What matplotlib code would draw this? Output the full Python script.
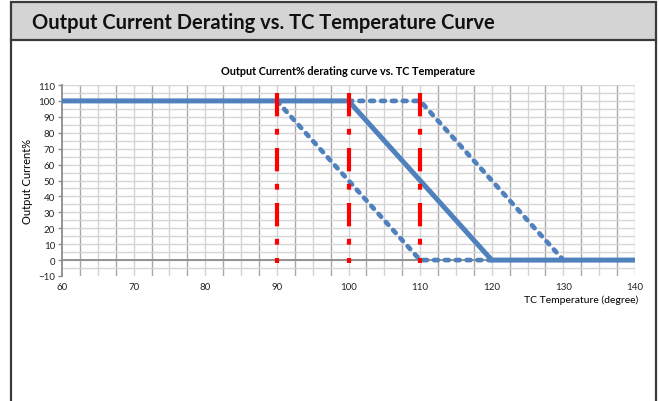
import numpy as np
import matplotlib
matplotlib.use('Agg')
import matplotlib.pyplot as plt
from matplotlib.patches import Rectangle
from matplotlib.lines import Line2D

# derating curves (temperature in degree, output current in %)
temp_rated = [60, 100, 120, 140]
current_rated = [100, 100, 0, 0]
temp_low = [90, 110, 120]
current_low = [100, 0, 0]
temp_high = [100, 110, 130]
current_high = [100, 100, 0]

# red marker lines at the derating start points
limit_temps = [90, 100, 110]
limit_top = 105
limit_bottom = -2

x_ticks = list(range(60, 141, 10))
y_ticks = list(range(-10, 111, 10))

plt.rcParams['font.family'] = ['Lato', 'DejaVu Sans']

W, H = 659, 402
fig = plt.figure(figsize=(W / 100, H / 100), dpi=100)

def fx(px):
    return px / W

def fy(py):
    return 1 - py / H

# frame and gray header bar
fig.add_artist(Rectangle((fx(10.5), fy(41)), fx(656) - fx(10.5), fy(3) - fy(41),
                         transform=fig.transFigure, facecolor='#D4D4D4',
                         edgecolor='#3A3A3A', lw=1.6))
fig.add_artist(Line2D([fx(10.5), fx(10.5)], [fy(41), 0], transform=fig.transFigure,
                      color='#3A3A3A', lw=1.6))
fig.add_artist(Line2D([fx(656), fx(656)], [fy(41), 0], transform=fig.transFigure,
                      color='#3A3A3A', lw=1.6))
fig.text(fx(32), fy(23), 'Output Current Derating vs. TC Temperature Curve',
         fontsize=14.5, fontweight='bold', va='center', ha='left', color='#111111')

ax = fig.add_axes([fx(62), fy(277), fx(635) - fx(62), fy(86) - fy(277)])

# grid
for i, t in enumerate(np.arange(62.5, 140, 2.5)):
    ax.axvline(t, color='#A8A8A8' if i % 2 == 0 else '#D3D3D3', lw=1.0, zorder=0)
for v in np.arange(-5, 111, 5):
    ax.axhline(v, color='#D6D6D6', lw=1.0, zorder=0)
ax.axvline(140, color='#C8C8C8', lw=1.0, zorder=0)
ax.axhline(0, color='#8C8C8C', lw=1.3, zorder=1)

ax.plot(temp_rated, current_rated, color='#4F81BD', lw=3.6,
        solid_capstyle='round', solid_joinstyle='round', zorder=3)
ax.plot(temp_low, current_low, color='#4F81BD', lw=3.4, dashes=(0.8, 1.5),
        dash_capstyle='round', zorder=3)
ax.plot(temp_high, current_high, color='#4F81BD', lw=3.4, dashes=(0.8, 1.5),
        dash_capstyle='round', zorder=3)
for t in limit_temps:
    ax.plot([t, t], [limit_top, limit_bottom], color='#FF0000', lw=3.0,
            dashes=(5.6, 3.0, 1.4, 3.2), dash_capstyle='butt', zorder=4)

ax.set_xlim(60, 140)
ax.set_ylim(-10, 110)
ax.set_xticks(x_ticks)
ax.set_yticks(y_ticks)
ax.tick_params(axis='x', length=0, pad=4, labelsize=7, colors='#222222')
ax.tick_params(axis='y', length=3, width=1, color='#8C8C8C', pad=2,
               labelsize=7, labelcolor='#222222')
for s in ['top', 'right', 'bottom']:
    ax.spines[s].set_visible(False)
ax.spines['left'].set_color('#8C8C8C')
ax.spines['left'].set_linewidth(1.3)

ax.set_title('Output Current% derating curve vs. TC Temperature',
             fontsize=7.8, fontweight='bold', pad=8)
ax.set_ylabel('Output Current%', fontsize=8, labelpad=4)
ax.xaxis.set_label_coords(1.005, -0.095)
ax.set_xlabel('TC Temperature (degree)', fontsize=7.5, ha='right', va='top')

fig.savefig('out.png', dpi=100)
